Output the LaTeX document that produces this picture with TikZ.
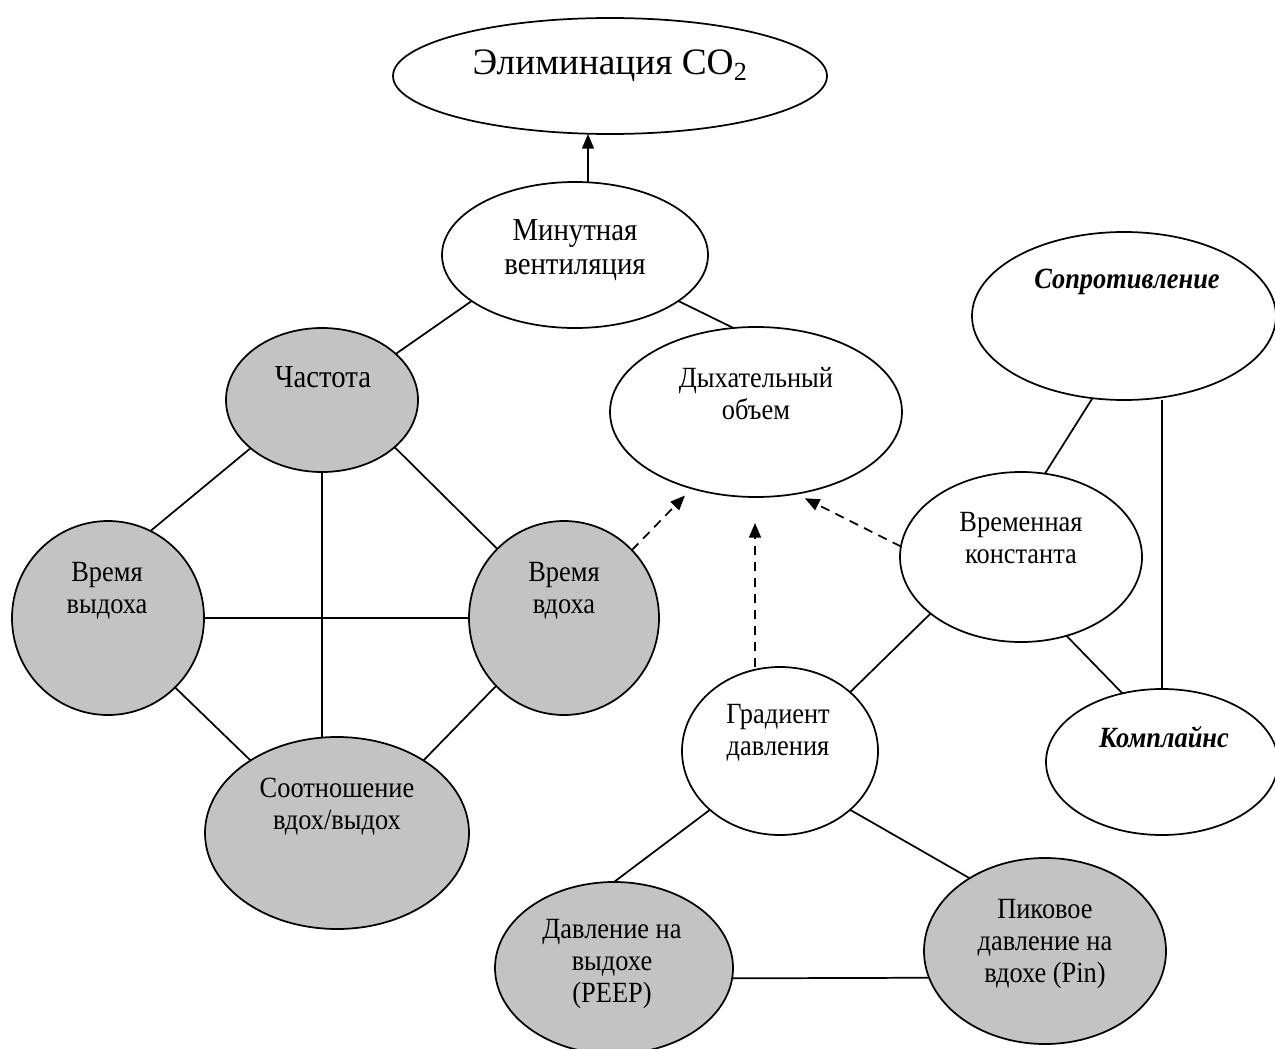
\documentclass[tikz,border=0pt]{standalone}
\usepackage{fontspec}
\setmainfont{Liberation Serif}
\newfontfamily\condserif{Liberation Serif}[FakeStretch=0.9]
\usetikzlibrary{shapes.geometric,arrows.meta}
\definecolor{ovgray}{RGB}{195,195,195}
\newcommand\mkoval[6]{\node[#6,minimum width=#4*1.5pt,minimum height=#5*1.5pt] (#1) at (#2,#3) {};}
\begin{document}
\begin{tikzpicture}[x=0.75pt,y=-0.75pt,
  oval/.style={ellipse,draw=black,line width=1.3pt,fill=white,inner sep=0pt,outer sep=0pt},
  goval/.style={oval,fill=ovgray},
  txt/.style={align=center,font=\condserif\fontsize{22}{24}\selectfont,inner sep=0pt},
  bitxt/.style={txt,font=\condserif\fontsize{22}{24}\selectfont\bfseries\itshape},
  link/.style={line width=1.3pt},
  darr/.style={line width=1.3pt,dash pattern=on 7pt off 5pt,-{Triangle[length=11pt,width=9pt]}},
  sarr/.style={line width=1.3pt,-{Triangle[length=11pt,width=9pt]}}]
\fill[white] (0,0) rectangle (1275,1049);
\useasboundingbox (0,0) rectangle (1275,1049);
% ovals
\mkoval{elim}{610}{76}{217}{58}{oval}
\mkoval{minv}{575}{255}{133}{73}{oval}
\mkoval{chast}{322}{400}{96}{72}{goval}
\mkoval{dyh}{756}{412}{146}{85}{oval}
\mkoval{sopr}{1124}{316}{152}{84}{oval}
\mkoval{vyd}{108}{618}{96}{97}{goval}
\mkoval{vdoh}{564}{618}{95}{97}{goval}
\mkoval{vrem}{1021}{557}{121}{85}{oval}
\mkoval{grad}{780}{751}{98}{84}{oval}
\mkoval{kompl}{1162}{762}{116}{73}{oval}
\mkoval{sootn}{337}{833}{132}{96}{goval}
\mkoval{peep}{614}{968}{119}{86}{goval}
\mkoval{pin}{1045}{951}{121}{93}{goval}
% texts
\node[txt,font=\fontsize{28}{32}\selectfont] (elim-t) at (610,66) {Элиминация CO\textsubscript{2}};
\node[txt,font=\condserif\fontsize{24}{26}\selectfont] (minv-t) at (575,250) {Минутная\\вентиляция};
\node[txt,font=\condserif\fontsize{24}{26}\selectfont] (chast-t) at (323,377) {Частота};
\node[txt] (dyh-t) at (756,394) {Дыхательный\\объем};
\node[bitxt] (sopr-t) at (1127,282) {Сопротивление};
\node[txt] (vyd-t) at (107,591) {Время\\выдоха};
\node[txt] (vdoh-t) at (564,591) {Время\\вдоха};
\node[txt] (vrem-t) at (1021,538) {Временная\\константа};
\node[txt] (grad-t) at (778,733) {Градиент\\давления};
\node[bitxt] (kompl-t) at (1164,737) {Комплайнс};
\node[txt] (sootn-t) at (337,807) {Соотношение\\вдох/выдох};
\node[txt] (peep-t) at (612,964) {Давление на\\выдохе\\(PEEP)};
\node[txt] (pin-t) at (1045,944) {Пиковое\\давление на\\вдохе (Pin)};
% connectors
\coordinate (mtop) at ([xshift=9.75pt]minv.north);
\draw[sarr] (mtop) -- (mtop |- elim.south);
\draw[link] (minv.204.8) -- (chast.32.6);
\draw[link] (minv.-24) -- (dyh.105.8);
\draw[link] (chast.214) -- (vyd.64.1);
\draw[link] (chast.-33.7) -- (vdoh.134.6);
\draw[link] (chast.south) -- (chast.south |- sootn.north);
\draw[link] (vyd.east) -- (vdoh.west);
\draw[link] (vyd.-46.6) -- (sootn.140);
\draw[link] (vdoh.225.4) -- (sootn.40.7);
\draw[darr,shorten >=7.5pt] (vdoh.45.4) -- (dyh.230.3);
\coordinate (gtop) at ([xshift=-18.75pt]grad.north);
\draw[darr,shorten >=19.5pt] (gtop) -- (gtop |- dyh.south);
\draw[darr,shorten >=7.5pt] (vrem.175.3) -- (dyh.-64);
\draw[link] (sopr.249.1) -- (vrem.74.1);
\draw[link] (kompl.north) -- (kompl.north |- sopr.south);
\draw[link] (vrem.-60.5) -- (kompl.120.3);
\draw[link] (vrem.212.4) -- (grad.40.3);
\draw[link] (grad.220.3) -- (peep.north);
\draw[link] (grad.-40.3) -- (pin.136.6);
\draw[link] (peep.-5.3) -- (pin.193.7);
\end{tikzpicture}
\end{document}
